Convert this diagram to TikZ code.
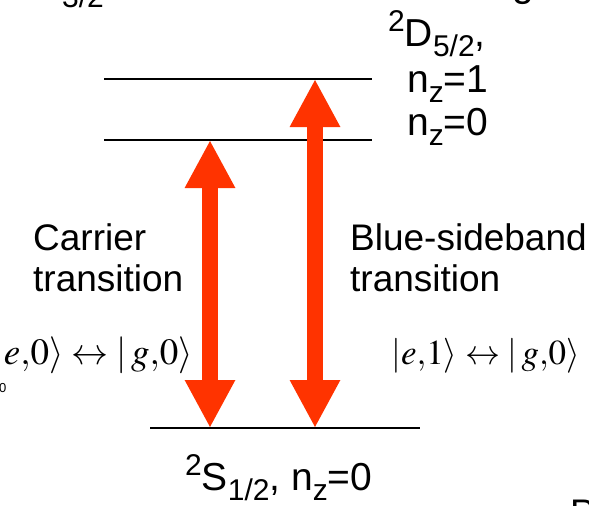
\documentclass[tikz,border=0pt]{standalone}
\usepackage{mathptmx}
\usepackage[no-math]{fontspec}
\setmainfont{Liberation Sans}
\usetikzlibrary{arrows.meta}
\definecolor{arr}{RGB}{255,51,0}
\newcommand{\lowtxt}[1]{{\fontsize{30}{30}\selectfont\raisebox{-10pt}{#1}}}
\newcommand{\hightxt}[1]{{\fontsize{30}{30}\selectfont\raisebox{15pt}{#1}}}
\tikzset{
  level/.style={line width=2pt, black},
  big/.style={font=\fontsize{37}{42}\selectfont, inner sep=0pt, anchor=base west},
  lvl/.style={font=\fontsize{39}{44}\selectfont, inner sep=0pt, anchor=base west},
  ket/.style={font=\fontsize{37}{42}\selectfont, inner sep=0pt, anchor=base east},
  trans/.style={line width=16pt, arr, {Triangle[width=47pt,length=48pt]}-{Triangle[width=47pt,length=48pt]}},
  frag/.style={inner sep=0pt, anchor=base west},
}
\begin{document}
\begin{tikzpicture}[x=1pt,y=-1pt]
\useasboundingbox[fill=white] (0,0) rectangle (589,506);
% levels
\coordinate (d1L) at (104,79);  \coordinate (d1R) at (372,79);
\coordinate (d0L) at (104,140); \coordinate (d0R) at (372,140);
\coordinate (sL)  at (150,428); \coordinate (sR)  at (420,428);
\draw[level] (d1L) -- (d1R);
\draw[level] (d0L) -- (d0R);
\draw[level] (sL) -- (sR);
% transitions
\coordinate (cTop) at (210,140); \coordinate (cBot) at (210,428);
\coordinate (bTop) at (315,79);  \coordinate (bBot) at (315,428);
\draw[trans] (cTop) -- (cBot);
\draw[trans] (bTop) -- (bBot);
% labels
\node[lvl] (dlab) at (388,46) {\hightxt{2}D\lowtxt{5/2},};
\node[lvl] (n1) at (407,92) {n\lowtxt{z}=1};
\node[lvl] (n0) at (407,135) {n\lowtxt{z}=0};
\node[lvl] (slab) at (185,490) {\hightxt{2}S\lowtxt{1/2}, n\lowtxt{z}=0};
\node[big] (car1) at (33,250) {Carrier};
\node[big] (car2) at (33,291) {transition};
\node[big] (bl1) at (350,250) {Blue-sideband};
\node[big] (bl2) at (350,291) {transition};
\node[ket] (kl) at (193,364) {$|e{,}0\rangle \leftrightarrow |\,g{,}0\rangle$};
\node[ket, font=\fontsize{35}{40}\selectfont] (kr) at (580,364) {$|e{,}1\rangle \leftrightarrow |\,g{,}0\rangle$};
% cut-off fragments at the edges
\node[frag, font=\fontsize{30}{30}\selectfont] (f1) at (62,7) {3/2};
\node[frag, font=\fontsize{39}{44}\selectfont] (f2) at (512,-3) {g};
\node[frag, font=\fontsize{13}{13}\selectfont] (f3) at (-1,392) {0};
\node[frag, font=\fontsize{37}{42}\selectfont] (f4) at (570,525) {P};
\end{tikzpicture}
\end{document}
